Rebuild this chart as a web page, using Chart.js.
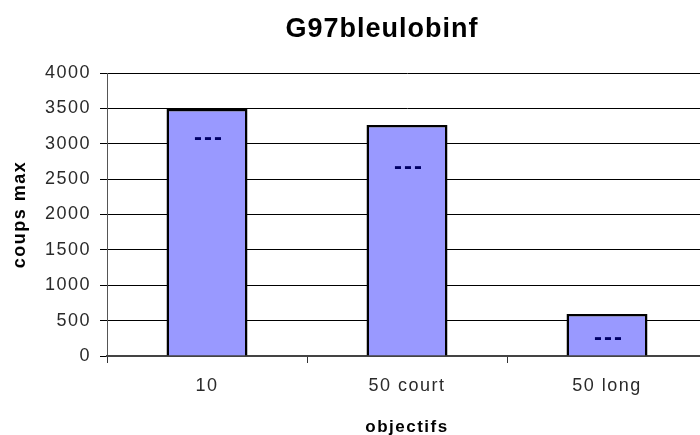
<!DOCTYPE html>
<html><head><meta charset="utf-8">
<script src="https://cdn.jsdelivr.net/npm/chart.js@4.4.0/dist/chart.umd.min.js"></script>
<style>
html,body{margin:0;padding:0;background:#fff;overflow:hidden;width:700px;height:435px}
#wrap{width:720px;height:435px}
</style></head>
<body><div id="wrap"><canvas id="c" width="720" height="435"></canvas></div>
<script>
const chartTitle = 'G97bleulobinf';
const categories = ['10', '50 court', '50 long'];
const coupsMax = [3490, 3265, 595];
const markValues = [3080, 2670, 255];
const markText = '---';
const yTickValues = [0, 500, 1000, 1500, 2000, 2500, 3000, 3500, 4000];
const yAxisTitle = 'coups max';
const xAxisTitle = 'objectifs';

const drawPlugin = {
  id: 'drawPlugin',
  beforeDraw(chart) {
    chart.ctx.letterSpacing = '1.5px';
  },
  afterDatasetsDraw(chart) {
    const ctx = chart.ctx;
    const meta = chart.getDatasetMeta(1);
    ctx.save();
    ctx.letterSpacing = '2px';
    ctx.font = 'bold 24px Arial, "Liberation Sans", sans-serif';
    ctx.fillStyle = '#000066';
    ctx.textAlign = 'center';
    ctx.textBaseline = 'alphabetic';
    meta.data.forEach(function (pt) {
      ctx.fillText(markText, pt.x + 2, pt.y + 7);
    });
    ctx.restore();
  },
  afterDraw(chart) {
    const ctx = chart.ctx;
    ctx.save();
    ctx.letterSpacing = '1px';
    ctx.font = 'bold 27px Arial, "Liberation Sans", sans-serif';
    ctx.fillStyle = '#000';
    ctx.textAlign = 'center';
    ctx.textBaseline = 'alphabetic';
    ctx.fillText(chartTitle, 382, 37);
    ctx.restore();
  }
};

new Chart(document.getElementById('c'), {
  data: {
    labels: categories,
    datasets: [
      {
        type: 'bar',
        data: coupsMax,
        backgroundColor: '#9999FF',
        borderColor: '#000000',
        borderWidth: 2.5,
        categoryPercentage: 1,
        barPercentage: 0.405,
        order: 2
      },
      {
        type: 'line',
        data: markValues,
        showLine: false,
        pointRadius: 0,
        pointHoverRadius: 0,
        order: 1
      }
    ]
  },
  options: {
    responsive: false,
    animation: false,
    devicePixelRatio: 1,
    layout: { padding: { top: 73, right: 13, left: 0, bottom: 0 } },
    plugins: { legend: { display: false }, tooltip: { enabled: false }, title: { display: false } },
    scales: {
      y: {
        min: 0, max: 4000,
        afterBuildTicks(scale) { scale.ticks = yTickValues.map(v => ({ value: v })); },
        afterFit(scale) { scale.width = 107; },
        ticks: {
          font: { family: 'Arial, "Liberation Sans", sans-serif', size: 18 },
          color: '#2a2a2a',
          padding: 9,
          callback: v => String(v)
        },
        grid: { color: '#000', lineWidth: 1, tickLength: 7, drawTicks: true },
        border: { color: '#555', width: 1 },
        title: {
          display: true, text: yAxisTitle, color: '#000',
          font: { family: 'Arial, "Liberation Sans", sans-serif', size: 18, weight: 'bold' },
          padding: { top: 9, bottom: 0 }
        }
      },
      x: {
        afterFit(scale) { scale.height = 79; },
        ticks: {
          font: { family: 'Arial, "Liberation Sans", sans-serif', size: 18 },
          color: '#2a2a2a',
          padding: 12
        },
        grid: { offset: true, drawOnChartArea: false, tickLength: 7, color: '#333', lineWidth: 1 },
        border: { color: '#444', width: 2 },
        title: {
          display: true, text: xAxisTitle, color: '#000',
          font: { family: 'Arial, "Liberation Sans", sans-serif', size: 17, weight: 'bold' },
          padding: { top: 8, bottom: -3 }
        }
      }
    }
  },
  plugins: [drawPlugin]
});
</script>
</body></html>
